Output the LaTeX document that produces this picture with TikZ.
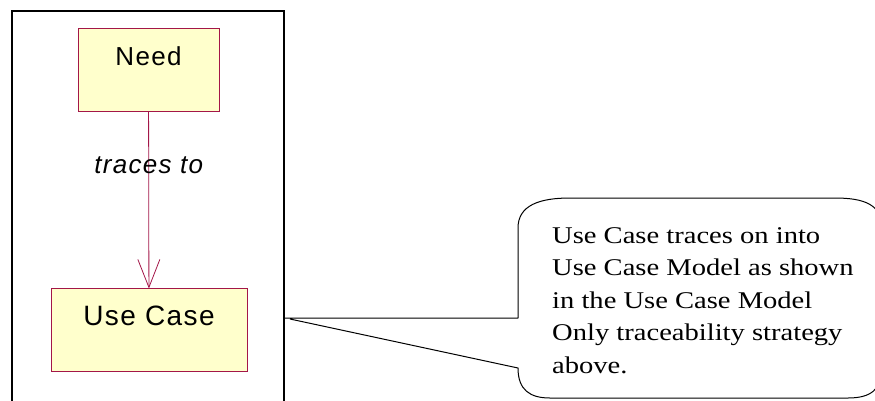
\documentclass[tikz,border=0pt]{standalone}
\usepackage{fontspec}
\usepackage{tikz}
\usetikzlibrary{arrows.meta}
\newfontfamily\boxfont[LetterSpace=5]{Liberation Sans}
\newfontfamily\notefont[FakeStretch=1.19]{Liberation Serif}
\definecolor{umlred}{RGB}{163,22,72}
\definecolor{umlfill}{RGB}{255,255,204}

\begin{document}
\begin{tikzpicture}[x=1pt, y=-1pt,
    classbox/.style={draw=umlred, fill=umlfill, line width=0.8pt, inner sep=0pt, outer sep=0pt, text height=37pt, text depth=46pt},
    trace/.style={draw=umlred, line width=0.8pt, -{Straight Barb[length=28pt, width=22pt]}},
    callout/.style={draw=black, line width=1pt, line join=round}]

    \useasboundingbox (0,0) rectangle (875,400);
    \clip (0,0) rectangle (875,400);

    \node[draw, line width=2pt, outer sep=0pt, minimum width=272pt, minimum height=400pt, anchor=north west] (f) at (12,11) {};
    \node[classbox, minimum width=141pt, font=\boxfont\fontsize{26}{30}\selectfont] (a) at (148.5,69.5) {Need};
    \node[classbox, minimum width=196pt, font=\boxfont\fontsize{28}{32}\selectfont] (b) at (149,330) {Use Case};
    \node[anchor=north west, inner sep=0pt, align=left, font=\notefont\fontsize{24}{32.5}\selectfont] (n) at (552,227) {Use Case traces on into\\Use Case Model as shown\\in the Use Case Model\\Only traceability strategy\\above.};
    \coordinate (p) at (284,318);
    \coordinate (q) at (290,319);

    \draw [trace] (a) to node[pos=0.35, anchor=base, inner sep=0pt, font=\boxfont\itshape\fontsize{26}{30}\selectfont] {traces to} (b);
    \draw [callout] (q) -- (518,368) .. controls (518,390) and (530,398) .. (550,398) -- (848,398)
        .. controls (870,398) and (882,390) .. (882,368) -- (882,228)
        .. controls (882,205) and (865,198) .. (835,198) -- (570,198)
        .. controls (540,198) and (518,205) .. (518,228) -- (518,318) -- (p);

\end{tikzpicture}
\end{document}
